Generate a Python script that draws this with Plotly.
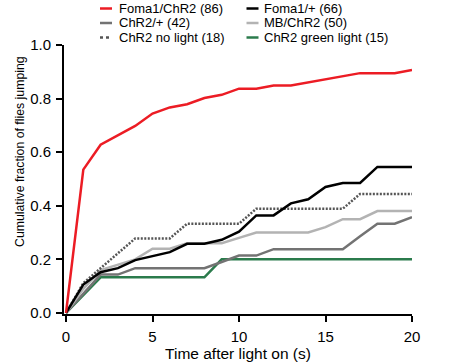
import plotly.graph_objects as go

time_s = list(range(0, 21))

foma1_chr2 = [0, 0.535, 0.628, 0.663, 0.698, 0.744, 0.767, 0.779, 0.802, 0.814, 0.837,
              0.837, 0.849, 0.849, 0.860, 0.872, 0.884, 0.895, 0.895, 0.895, 0.907]
foma1_plus = [0, 0.106, 0.152, 0.167, 0.197, 0.212, 0.227, 0.258, 0.258, 0.273, 0.303,
              0.364, 0.364, 0.409, 0.424, 0.470, 0.485, 0.485, 0.545, 0.545, 0.545]
chr2_plus = [0, 0.071, 0.143, 0.143, 0.167, 0.167, 0.167, 0.167, 0.167, 0.190, 0.214,
             0.214, 0.238, 0.238, 0.238, 0.238, 0.238, 0.286, 0.333, 0.333, 0.357]
mb_chr2 = [0, 0.09, 0.16, 0.18, 0.20, 0.24, 0.24, 0.26, 0.26, 0.26, 0.28,
           0.30, 0.30, 0.30, 0.30, 0.32, 0.35, 0.35, 0.38, 0.38, 0.38]
chr2_no_light = [0, 0.111, 0.167, 0.222, 0.278, 0.278, 0.278, 0.333, 0.333, 0.333, 0.333,
                 0.389, 0.389, 0.389, 0.389, 0.389, 0.389, 0.444, 0.444, 0.444, 0.444]
chr2_green = [0, 0.067, 0.133, 0.133, 0.133, 0.133, 0.133, 0.133, 0.133, 0.2, 0.2,
              0.2, 0.2, 0.2, 0.2, 0.2, 0.2, 0.2, 0.2, 0.2, 0.2]

series_names = ["Foma1/ChR2 (86)", "Foma1/+ (66)", "ChR2/+ (42)", "MB/ChR2 (50)",
                "ChR2 no light (18)", "ChR2 green light (15)"]
series_values = [foma1_chr2, foma1_plus, chr2_plus, mb_chr2, chr2_no_light, chr2_green]

x_ticks = [0, 5, 10, 15, 20]
y_ticks = [0.0, 0.2, 0.4, 0.6, 0.8, 1.0]
y_tick_labels = ["0.0", "0.2", "0.4", "0.6", "0.8", "1.0"]

styles = {
    "Foma1/ChR2 (86)": dict(color="#ec1c24", dash="solid"),
    "Foma1/+ (66)": dict(color="#000000", dash="solid"),
    "ChR2/+ (42)": dict(color="#737373", dash="solid"),
    "MB/ChR2 (50)": dict(color="#b3b3b3", dash="solid"),
    "ChR2 no light (18)": dict(color="#555555", dash="2px,1.5px"),
    "ChR2 green light (15)": dict(color="#2b7b4c", dash="solid"),
}
draw_order = ["ChR2 green light (15)", "ChR2/+ (42)", "MB/ChR2 (50)", "ChR2 no light (18)",
              "Foma1/+ (66)", "Foma1/ChR2 (86)"]

FONT = "Liberation Sans, Arial, Helvetica, sans-serif"

fig = go.Figure()
for name in draw_order:
    vals = series_values[series_names.index(name)]
    st = styles[name]
    fig.add_trace(go.Scatter(
        x=time_s, y=vals, mode="lines", name=name, showlegend=False,
        line=dict(color=st["color"], width=2.5, dash=st["dash"]),
        cliponaxis=False, hoverinfo="skip",
    ))

# custom compact two-column legend
W, H = 450, 362
ml, mr, mt, mb = 64, 38, 45, 48
pw, ph = W - ml - mr, H - mt - mb

def px2x(px):
    return (px - ml) / pw

def py2y(py):
    return (H - mb - py) / ph

row_y = [8.5, 23, 37.5]
col_sym = [(100, 112), (246.5, 258.5)]
col_txt = [117, 262]
for i, name in enumerate(series_names):
    col, row = i % 2, i // 2
    st = styles[name]
    y = py2y(row_y[row])
    fig.add_shape(type="line", xref="paper", yref="paper",
                  x0=px2x(col_sym[col][0]), x1=px2x(col_sym[col][1]), y0=y, y1=y,
                  line=dict(color=st["color"], width=2.5,
                            dash="dot" if st["dash"] != "solid" else "solid"))
    fig.add_annotation(xref="paper", yref="paper", x=px2x(col_txt[col]), y=y,
                       text=name, showarrow=False, xanchor="left", yanchor="middle",
                       font=dict(family=FONT, size=13, color="#000"))

fig.add_annotation(xref="paper", yref="paper", x=px2x(20), y=py2y(152),
                   text="Cumulative fraction of flies jumping", textangle=-90,
                   showarrow=False, xanchor="center", yanchor="middle",
                   font=dict(family=FONT, size=12.3, color="#000"))

fig.update_layout(
    width=W, height=H,
    margin=dict(l=ml, r=mr, t=mt, b=mb, pad=0, autoexpand=False),
    paper_bgcolor="white", plot_bgcolor="white",
    font=dict(family=FONT, size=15, color="#000"),
    xaxis=dict(range=[-0.116, 20], tickvals=x_ticks, ticks="outside", ticklen=6,
               tickwidth=2, tickcolor="#000", showline=True, linewidth=2, linecolor="#000",
               showgrid=False, zeroline=False, automargin=False,
               ticklabelstandoff=2, tickfont=dict(family=FONT, size=15),
               title=dict(text="Time after light on (s)", standoff=2,
                          font=dict(family=FONT, size=15.5))),
    yaxis=dict(range=[-0.004, 1.0], tickvals=y_ticks, ticktext=y_tick_labels,
               ticks="outside", ticklen=6, tickwidth=2, tickcolor="#000",
               showline=True, linewidth=2, linecolor="#000", automargin=False,
               ticklabelstandoff=2, tickfont=dict(family=FONT, size=15),
               showgrid=False, zeroline=False),
)

fig.write_html("out.html", config={"displayModeBar": False},
               post_script="document.body.style.margin='0';")
